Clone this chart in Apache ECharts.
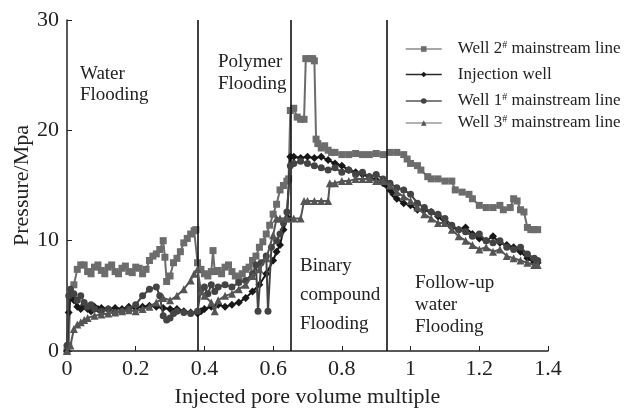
<!DOCTYPE html>
<html>
<head>
<meta charset="utf-8">
<script src="https://cdn.jsdelivr.net/npm/echarts@6/dist/echarts.min.js"></script>
<style>html,body{margin:0;padding:0;background:#fff}#c{width:630px;height:409px}</style>
</head>
<body>
<div id="c"></div>
<script>
// ---- data (x = injected pore volume multiple, y = pressure / MPa) ----
const seriesNames = ['Well 2# mainstream line', 'Injection well', 'Well 1# mainstream line', 'Well 3# mainstream line'];
const xTicks = [0, 0.2, 0.4, 0.6, 0.8, 1, 1.2, 1.4];
const yTicks = [0, 10, 20, 30];
const phaseBoundaries = [0.378, 0.646, 0.928];
const phaseLabels = ['Water\nFlooding', 'Polymer\nFlooding', 'Binary\ncompound\nFlooding', 'Follow-up\nwater\nFlooding'];

const well2 = [[0,0],[0.005,0.5],[0.01,5.5],[0.02,6],[0.03,7.4],[0.04,7.8],[0.05,7.8],[0.06,7.2],[0.07,7],[0.08,7.6],[0.09,7.8],[0.10,7.3],[0.11,7.0],[0.12,7.6],[0.13,7.8],[0.14,7.2],[0.15,7.0],[0.16,7.5],[0.17,7.7],[0.18,7.2],[0.19,7.1],[0.20,7.6],[0.21,7.5],[0.22,7.0],[0.23,7.4],[0.24,8.2],[0.25,8.6],[0.26,8.8],[0.27,9.2],[0.28,10.0],[0.285,8.5],[0.29,6.3],[0.30,6.8],[0.31,8.0],[0.32,8.4],[0.33,9.0],[0.34,9.8],[0.35,10.2],[0.36,10.6],[0.37,10.9],[0.375,11.0],[0.38,8.0],[0.39,7.4],[0.40,7.0],[0.41,6.8],[0.42,7.2],[0.425,9.1],[0.43,7.2],[0.44,7.3],[0.45,7.0],[0.46,7.6],[0.47,7.8],[0.48,7.2],[0.49,6.8],[0.50,6.6],[0.51,7.0],[0.52,7.4],[0.53,7.6],[0.54,8.2],[0.55,8.6],[0.56,9.4],[0.57,9.9],[0.58,10.6],[0.59,11.4],[0.60,12.4],[0.61,13.3],[0.62,14.6],[0.63,15.0],[0.64,15.4],[0.645,15.6],[0.65,21.8],[0.66,22.0],[0.67,21.2],[0.68,21.0],[0.69,21.0],[0.695,26.5],[0.705,26.5],[0.715,26.5],[0.72,26.3],[0.725,19.2],[0.73,18.8],[0.74,18.4],[0.75,18.6],[0.76,18.2],[0.77,18.0],[0.78,18.0],[0.80,17.8],[0.82,17.8],[0.84,17.9],[0.86,17.8],[0.88,17.8],[0.90,17.9],[0.92,17.8],[0.94,18.0],[0.96,18.0],[0.98,17.8],[0.99,17.4],[1.00,17.0],[1.02,16.8],[1.03,16.4],[1.05,15.8],[1.06,15.6],[1.08,15.6],[1.10,15.4],[1.12,15.4],[1.13,14.6],[1.15,14.4],[1.17,14.2],[1.18,13.8],[1.20,13.2],[1.22,13.0],[1.24,13.0],[1.26,13.2],[1.27,12.8],[1.29,13.0],[1.30,13.8],[1.31,13.6],[1.32,12.8],[1.33,12.6],[1.34,11.2],[1.35,11.0],[1.36,11.0],[1.37,11.0]];

const injection = [[0,0],[0.005,3.5],[0.01,5.0],[0.02,4.6],[0.03,4.0],[0.04,3.8],[0.05,4.2],[0.06,3.8],[0.07,3.6],[0.08,4.0],[0.09,3.8],[0.10,3.9],[0.12,3.8],[0.14,3.9],[0.16,3.8],[0.18,4.0],[0.20,3.9],[0.22,4.0],[0.24,4.1],[0.26,4.0],[0.28,3.9],[0.30,3.8],[0.32,3.8],[0.34,3.6],[0.36,3.5],[0.38,3.4],[0.39,3.6],[0.40,3.8],[0.42,4.0],[0.44,4.2],[0.46,4.0],[0.48,4.2],[0.50,4.4],[0.52,4.8],[0.54,5.4],[0.56,6.0],[0.58,7.0],[0.60,8.2],[0.61,9.0],[0.62,9.6],[0.63,11.0],[0.64,12.0],[0.645,12.0],[0.65,17.6],[0.66,17.6],[0.68,17.5],[0.70,17.6],[0.72,17.5],[0.74,17.6],[0.76,17.3],[0.78,17.0],[0.80,16.8],[0.82,16.4],[0.84,16.2],[0.86,16.0],[0.88,15.8],[0.90,15.5],[0.92,15.2],[0.93,15.0],[0.94,14.6],[0.95,14.2],[0.96,13.8],[0.98,13.4],[1.00,13.2],[1.02,12.8],[1.04,12.8],[1.06,12.6],[1.08,12.2],[1.10,11.6],[1.12,11.2],[1.14,11.0],[1.16,11.2],[1.18,10.6],[1.20,10.2],[1.22,10.0],[1.24,10.4],[1.26,9.8],[1.28,9.6],[1.30,9.4],[1.32,9.0],[1.34,8.4],[1.36,8.0],[1.37,8.0]];

const well1 = [[0,0.5],[0.005,5.0],[0.01,5.6],[0.02,5.2],[0.03,4.6],[0.04,5.0],[0.05,4.4],[0.06,4.0],[0.07,4.2],[0.08,3.8],[0.10,3.6],[0.12,3.8],[0.14,3.5],[0.16,3.6],[0.18,3.8],[0.20,4.2],[0.22,5.0],[0.24,5.6],[0.26,5.8],[0.27,5.0],[0.28,3.2],[0.29,2.8],[0.30,3.0],[0.31,3.4],[0.32,3.6],[0.34,3.5],[0.36,3.4],[0.38,3.6],[0.39,5.6],[0.40,5.8],[0.41,5.2],[0.42,6.0],[0.43,5.4],[0.44,5.8],[0.46,6.0],[0.48,5.8],[0.50,6.2],[0.52,6.4],[0.54,7.0],[0.55,7.8],[0.556,3.6],[0.565,8.0],[0.58,8.6],[0.585,3.6],[0.595,9.4],[0.61,10.0],[0.62,10.6],[0.63,11.6],[0.64,12.6],[0.65,16.8],[0.66,17.0],[0.68,17.2],[0.70,17.0],[0.72,16.8],[0.74,16.6],[0.76,16.4],[0.78,16.6],[0.80,16.2],[0.82,16.4],[0.84,16.0],[0.86,16.2],[0.88,15.8],[0.90,16.0],[0.92,15.6],[0.94,15.2],[0.96,14.8],[0.98,14.6],[1.00,14.2],[1.02,13.4],[1.04,13.0],[1.06,12.6],[1.08,12.4],[1.10,12.0],[1.12,11.4],[1.14,11.0],[1.16,10.8],[1.18,10.4],[1.20,10.6],[1.22,10.0],[1.24,9.8],[1.26,10.0],[1.28,9.4],[1.30,9.2],[1.32,9.4],[1.34,8.8],[1.36,8.4],[1.37,8.2]];

const well3 = [[0,0],[0.01,0.5],[0.02,2.0],[0.03,2.4],[0.04,2.6],[0.05,2.8],[0.06,3.0],[0.08,3.2],[0.10,3.3],[0.12,3.4],[0.14,3.5],[0.16,3.6],[0.18,3.7],[0.20,3.6],[0.22,3.8],[0.24,4.0],[0.26,4.4],[0.28,4.8],[0.30,4.6],[0.32,5.0],[0.34,5.6],[0.36,6.4],[0.37,7.0],[0.38,7.4],[0.39,5.4],[0.40,5.0],[0.42,4.4],[0.43,3.6],[0.44,4.6],[0.46,5.0],[0.48,5.2],[0.50,5.6],[0.52,6.0],[0.54,6.8],[0.56,7.4],[0.58,8.4],[0.60,10.5],[0.61,12.0],[0.62,12.0],[0.64,12.0],[0.66,12.0],[0.68,12.0],[0.69,13.6],[0.70,13.6],[0.72,13.6],[0.74,13.6],[0.76,13.6],[0.765,15.2],[0.78,15.2],[0.80,15.4],[0.82,15.4],[0.84,15.6],[0.86,15.6],[0.88,15.6],[0.90,15.4],[0.92,15.4],[0.94,15.0],[0.96,14.4],[0.98,14.0],[1.00,13.6],[1.02,13.0],[1.04,12.4],[1.06,12.0],[1.08,11.6],[1.10,11.6],[1.12,11.0],[1.14,10.4],[1.16,10.0],[1.18,9.6],[1.20,9.2],[1.22,9.4],[1.24,9.0],[1.26,9.2],[1.28,8.6],[1.30,8.4],[1.32,8.2],[1.34,8.0],[1.36,7.8],[1.37,7.8]];

const seriesData = [well2, injection, well1, well3];

// ---- styling ----
const FONT = '"Liberation Serif", "DejaVu Serif", serif';
const colors = ['#6c6c6c', '#181818', '#444444', '#555555'];
const legendLineColors = ['#8a8a8a', '#2a2a2a', '#555555', '#9a9a9a'];
const symbols = ['rect', 'diamond', 'circle', 'triangle'];
const symbolSizes = [7, 8, 7, 8];
const legendTops = [35, 61, 87, 109];

const chart = echarts.init(document.getElementById('c'), null, {renderer: 'canvas'});

const series = seriesData.map((d, i) => ({
  name: seriesNames[i],
  type: 'line',
  data: d,
  symbol: symbols[i],
  symbolSize: symbolSizes[i],
  showSymbol: true,
  lineStyle: {color: colors[i], width: 2},
  itemStyle: {color: colors[i]},
  z: 3 + i,
  animation: false
}));

// boundary lines between flooding stages
series.push({
  name: 'boundaries',
  type: 'line',
  data: [],
  markLine: {
    silent: true,
    symbol: ['none', 'none'],
    label: {show: false},
    lineStyle: {color: '#111', width: 1.6, type: 'solid'},
    data: phaseBoundaries.map(v => ({xAxis: v}))
  },
  animation: false
});

const legends = seriesNames.map((n, i) => ({
  data: [{name: n, itemStyle: {color: colors[i]}, lineStyle: {color: legendLineColors[i], width: 1.5}}],
  left: 400,
  top: legendTops[i],
  itemWidth: 36,
  itemHeight: 7,
  formatter: name => name.replace('#', '{sup|#}'),
  textStyle: {
    fontFamily: FONT, fontSize: 17, color: '#222', padding: [0, 0, 0, 11],
    rich: {sup: {fontFamily: FONT, fontSize: 10, color: '#222', verticalAlign: 'top', padding: [0, 0, 8, 0]}}
  },
  selectedMode: false
}));

const phaseX = [80, 218, 300, 415];
const phaseY = [64, 51, 252, 272];
const phaseLH = [21, 22, 29, 22];

const option = {
  backgroundColor: '#fff',
  animation: false,
  grid: {left: 67, right: 82, top: 20, bottom: 58, containLabel: false, outerBoundsMode: 'none'},
  legend: legends,
  xAxis: {
    type: 'value', min: xTicks[0], max: xTicks[xTicks.length - 1], interval: 0.2,
    name: 'Injected pore volume multiple', nameLocation: 'middle', nameGap: 35, nameMoveOverlap: false,
    nameTextStyle: {fontFamily: FONT, fontSize: 22, color: '#222'},
    axisLine: {show: true, lineStyle: {color: '#222', width: 1.5}},
    axisTick: {show: true, inside: true, length: 5, lineStyle: {color: '#222'}},
    axisLabel: {fontFamily: FONT, fontSize: 22, color: '#222', margin: 7, formatter: v => String(+v.toFixed(1))},
    splitLine: {show: false}
  },
  yAxis: {
    type: 'value', min: yTicks[0], max: yTicks[yTicks.length - 1], interval: 10,
    name: 'Pressure/Mpa', nameLocation: 'middle', nameGap: 34, nameRotate: 90, nameMoveOverlap: false,
    nameTextStyle: {fontFamily: FONT, fontSize: 22, color: '#222'},
    axisLine: {show: true, lineStyle: {color: '#222', width: 1.5}},
    axisTick: {show: true, inside: true, length: 5, lineStyle: {color: '#222'}},
    axisLabel: {fontFamily: FONT, fontSize: 22, color: '#222', margin: 8},
    splitLine: {show: false}
  },
  graphic: phaseLabels.map((t, i) => ({
    type: 'text', left: phaseX[i], top: phaseY[i], z: 10,
    style: {text: t, font: '19px ' + FONT, fill: '#222', lineHeight: phaseLH[i]}
  })),
  series: series
};
chart.setOption(option);
</script>
</body>
</html>
